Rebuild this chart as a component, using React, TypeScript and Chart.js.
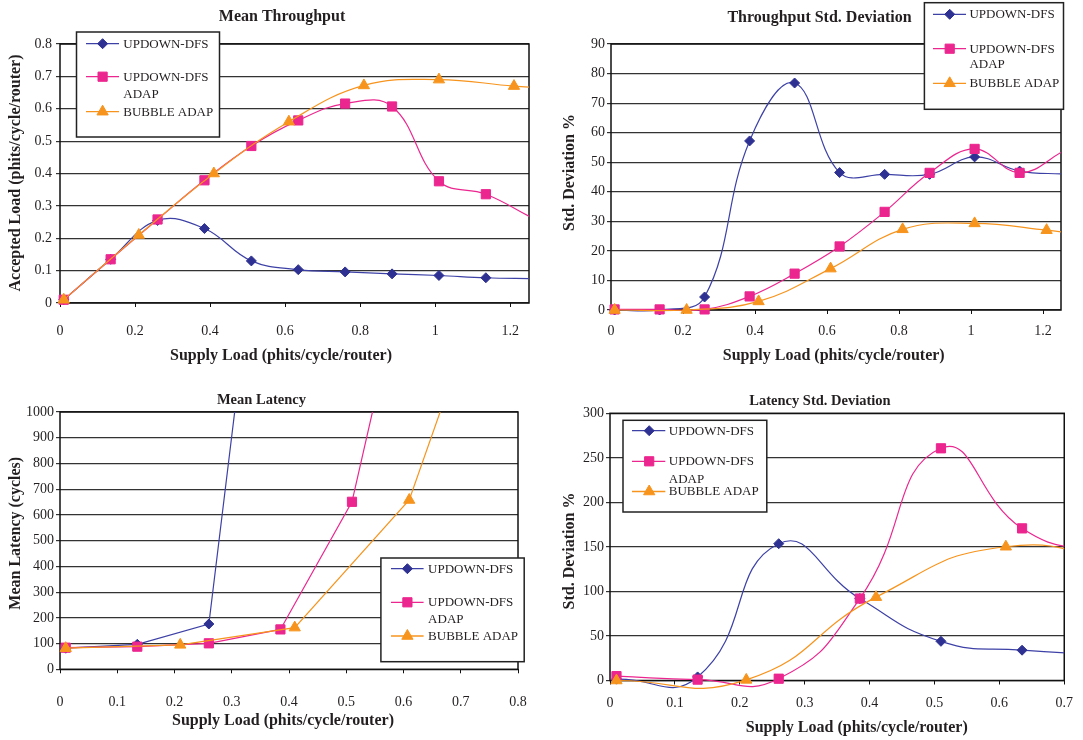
import React, { useEffect, useRef } from 'react';
import { Chart, registerables } from 'chart.js';

Chart.register(...registerables);

const SERIF = '"Liberation Serif", "Times New Roman", serif';
const W = 1083;
const H = 740;

// ---- series meta ----
const seriesNames = ['UPDOWN-DFS', 'UPDOWN-DFS ADAP', 'BUBBLE ADAP'];
const legendLines = [['UPDOWN-DFS'], ['UPDOWN-DFS', 'ADAP'], ['BUBBLE ADAP']];
const markerColors = ['#2e3192', '#ec268f', '#f7941d'];
const lineColors = ['#3d41a6', '#ec268f', '#f7941d'];

// ---- supply loads (phits/cycle/router) ----
const loadsUpdown = [0.01, 0.135, 0.26, 0.385, 0.51, 0.635, 0.76, 0.885, 1.01, 1.135, 1.26];
const loadsBubble = [0.01, 0.21, 0.41, 0.61, 0.81, 1.01, 1.21, 1.41];

// ---- Mean Throughput (accepted load) ----
const thrUpdown = [0.01, 0.135, 0.255, 0.23, 0.13, 0.103, 0.096, 0.09, 0.085, 0.078, 0.075];
const thrUpdownAdap = [0.01, 0.135, 0.258, 0.379, 0.485, 0.564, 0.616, 0.607, 0.376, 0.336, 0.262];
const thrBubble = [0.01, 0.21, 0.4, 0.56, 0.672, 0.69, 0.67, 0.655];

// ---- Throughput Std. Deviation (%) ----
const thrSdUpdown = [0, 0, 4.4, 57.2, 76.8, 46.5, 45.9, 45.9, 51.8, 47, 46];
const thrSdUpdownAdap = [0.2, 0.2, 0.2, 4.6, 12.3, 21.5, 33.2, 46.4, 54.5, 46.4, 54];
const thrSdBubble = [0, 0, 2.9, 14, 27.3, 29.3, 27, 24];

// ---- Mean Latency (cycles) ----
const latUpdown = [82, 97, 176, 2460];
const latUpdownAdap = [84, 88, 101, 155, 651, 1870];
const latBubble = [82, 95, 162, 658, 1925];

// ---- Latency Std. Deviation (%) ----
const latSdUpdown = [1.5, 4, 153.6, 92, 44, 34, 29];
const latSdUpdownAdap = [4.9, 1, 2, 92, 260.7, 170.8, 140];
const latSdBubble = [0, 0.7, 93.6, 150.2, 128];

const xAxisTitle = 'Supply Load (phits/cycle/router)';

type Legend = {
  box: [number, number, number, number];
  line: [number, number];
  marker: number;
  text: number;
  rows: [number, number, number];
  gap: number;
};

type Panel = {
  title: string;
  titleSize: number;
  titlePos: [number, number];
  yTitle: string;
  yTitlePos: [number, number];
  xTitlePos: [number, number];
  area: [number, number, number, number];
  xMax: number;
  xStep: number;
  yMax: number;
  yStep: number;
  xLabelPad: number;
  yLabelPad: number;
  tension: number;
  clipTop: number;
  series: [number[], number[]][];
  legend: Legend;
};

const panels: Panel[] = [
  {
    title: 'Mean Throughput',
    titleSize: 16,
    titlePos: [282, 17],
    yTitle: 'Accepted Load (phits/cycle/router)',
    yTitlePos: [15.5, 173],
    xTitlePos: [281, 356],
    area: [60, 44, 529, 303],
    xMax: 1.25,
    xStep: 0.2,
    yMax: 0.8,
    yStep: 0.1,
    xLabelPad: 16,
    yLabelPad: 4,
    tension: 0.4,
    clipTop: 10,
    series: [
      [loadsUpdown, thrUpdown],
      [loadsUpdown, thrUpdownAdap],
      [loadsBubble, thrBubble],
    ],
    legend: { box: [76.5, 32, 219.5, 137], line: [86, 119], marker: 102.6, text: 123.3, rows: [43.7, 76.7, 111.7], gap: 17.6 },
  },
  {
    title: 'Throughput Std. Deviation',
    titleSize: 16,
    titlePos: [819.5, 17.7],
    yTitle: 'Std. Deviation %',
    yTitlePos: [569.4, 172.5],
    xTitlePos: [833.7, 356],
    area: [611, 44, 1061, 310],
    xMax: 1.25,
    xStep: 0.2,
    yMax: 90,
    yStep: 10,
    xLabelPad: 9,
    yLabelPad: 2,
    tension: 0.4,
    clipTop: 10,
    series: [
      [loadsUpdown, thrSdUpdown],
      [loadsUpdown, thrSdUpdownAdap],
      [loadsBubble, thrSdBubble],
    ],
    legend: { box: [924.4, 2.7, 1063.5, 109.3], line: [933, 966], marker: 949.7, text: 969.4, rows: [14.3, 48.7, 83.3], gap: 15.5 },
  },
  {
    title: 'Mean Latency',
    titleSize: 14.5,
    titlePos: [261.4, 400],
    yTitle: 'Mean Latency (cycles)',
    yTitlePos: [15.5, 533.3],
    xTitlePos: [283, 721],
    area: [60, 412, 518, 669.3],
    xMax: 0.8,
    xStep: 0.1,
    yMax: 1000,
    yStep: 100,
    xLabelPad: 21,
    yLabelPad: 2,
    tension: 0,
    clipTop: 0,
    series: [
      [loadsUpdown, latUpdown],
      [loadsUpdown, latUpdownAdap],
      [loadsBubble, latBubble],
    ],
    legend: { box: [380.9, 558, 524.2, 661.7], line: [391, 423.6], marker: 407.4, text: 428.1, rows: [568.7, 602.3, 636], gap: 17 },
  },
  {
    title: 'Latency Std. Deviation',
    titleSize: 14.5,
    titlePos: [820, 401.7],
    yTitle: 'Std. Deviation %',
    yTitlePos: [569.8, 551],
    xTitlePos: [856.8, 727.7],
    area: [610, 413.3, 1069, 680.5],
    xMax: 0.7,
    xStep: 0.1,
    yMax: 300,
    yStep: 50,
    xLabelPad: 10,
    yLabelPad: 2,
    tension: 0.5,
    clipTop: 10,
    series: [
      [loadsUpdown, latSdUpdown],
      [loadsUpdown, latSdUpdownAdap],
      [loadsBubble, latSdBubble],
    ],
    legend: { box: [623, 420.3, 766.8, 512], line: [632, 665.3], marker: 649.2, text: 668.8, rows: [430.7, 461.3, 491.5], gap: 18 },
  },
];

const pointStyles = ['rectRot', 'rect', 'triangle'];
const pointRadii = [5, 6.5, 6.5];

function drawMarker(ctx: CanvasRenderingContext2D, i: number, x: number, y: number) {
  const r = pointRadii[i];
  ctx.beginPath();
  if (i === 0) {
    ctx.moveTo(x, y - r);
    ctx.lineTo(x + r, y);
    ctx.lineTo(x, y + r);
    ctx.lineTo(x - r, y);
  } else if (i === 1) {
    const s = r * Math.SQRT1_2;
    ctx.rect(x - s, y - s, 2 * s, 2 * s);
  } else {
    ctx.moveTo(x, y - r);
    ctx.lineTo(x + r * 0.866, y + r / 2);
    ctx.lineTo(x - r * 0.866, y + r / 2);
  }
  ctx.closePath();
  ctx.fillStyle = markerColors[i];
  ctx.strokeStyle = markerColors[i];
  ctx.lineWidth = 1;
  ctx.fill();
  ctx.stroke();
}

function makeDecor(p: Panel) {
  return {
    id: 'decor',
    beforeDatasetsDraw(chart: any) {
      const { ctx, chartArea: a } = chart;
      ctx.save();
      ctx.strokeStyle = '#111';
      ctx.lineWidth = 1.5;
      ctx.strokeRect(a.left, a.top, a.right - a.left, a.bottom - a.top);
      ctx.restore();
    },
    afterDraw(chart: any) {
      const ctx: CanvasRenderingContext2D = chart.ctx;
      ctx.save();
      ctx.fillStyle = '#231f20';
      ctx.textAlign = 'center';
      ctx.textBaseline = 'middle';
      // title
      ctx.font = `bold ${p.titleSize}px ${SERIF}`;
      ctx.fillText(p.title, p.titlePos[0], p.titlePos[1]);
      // x axis title
      ctx.font = `bold 16px ${SERIF}`;
      ctx.fillText(xAxisTitle, p.xTitlePos[0], p.xTitlePos[1]);
      // y axis title
      ctx.save();
      ctx.translate(p.yTitlePos[0], p.yTitlePos[1]);
      ctx.rotate(-Math.PI / 2);
      ctx.fillText(p.yTitle, 0, 0);
      ctx.restore();

      // legend
      const L = p.legend;
      const [x1, y1, x2, y2] = L.box;
      ctx.fillStyle = '#ffffff';
      ctx.fillRect(x1, y1, x2 - x1, y2 - y1);
      ctx.strokeStyle = '#222';
      ctx.lineWidth = 1.5;
      ctx.strokeRect(x1, y1, x2 - x1, y2 - y1);
      ctx.font = `13px ${SERIF}`;
      ctx.textAlign = 'left';
      ctx.textBaseline = 'middle';
      for (let i = 0; i < 3; i++) {
        const y = L.rows[i];
        ctx.strokeStyle = lineColors[i];
        ctx.lineWidth = 1.3;
        ctx.beginPath();
        ctx.moveTo(L.line[0], y);
        ctx.lineTo(L.line[1], y);
        ctx.stroke();
        drawMarker(ctx, i, L.marker, y);
        ctx.fillStyle = '#231f20';
        legendLines[i].forEach((t, k) => ctx.fillText(t, L.text, y + k * L.gap + 0.5));
      }
      ctx.restore();
    },
  };
}

const fmt = (v: any) => String(+Number(v).toFixed(3));

function buildConfig(p: Panel): any {
  const datasets = p.series.map(([xs, ys], i) => ({
    label: seriesNames[i],
    data: ys.map((y, j) => ({ x: xs[j], y })),
    borderColor: lineColors[i],
    backgroundColor: markerColors[i],
    borderWidth: 1.2,
    pointStyle: pointStyles[i],
    pointRadius: (c: any) => {
      const raw = c.raw;
      if (raw && (raw.x > p.xMax + 1e-9 || raw.y > p.yMax + 1e-9)) return 0;
      return pointRadii[i];
    },
    pointBackgroundColor: markerColors[i],
    pointBorderColor: markerColors[i],
    pointBorderWidth: 1,
    pointHoverRadius: pointRadii[i],
    tension: p.tension,
    cubicInterpolationMode: 'default',
    capBezierPoints: false,
    fill: false,
    clip: { left: 10, right: 0, top: p.clipTop, bottom: 12 },
    order: 3 - i,
  }));
  const tickFont = { family: SERIF, size: 14 };
  return {
    type: 'line',
    data: { datasets },
    options: {
      responsive: false,
      animation: false,
      devicePixelRatio: 1,
      events: [],
      elements: { line: { capBezierPoints: false } },
      layout: { padding: { left: 0, top: p.area[1], right: W - p.area[2], bottom: 0 } },
      plugins: {
        legend: { display: false },
        title: { display: false },
        tooltip: { enabled: false },
      },
      scales: {
        x: {
          type: 'linear',
          min: 0,
          max: p.xMax,
          ticks: {
            stepSize: p.xStep,
            includeBounds: false,
            autoSkip: false,
            maxRotation: 0,
            font: tickFont,
            color: '#231f20',
            padding: p.xLabelPad,
            callback: fmt,
          },
          grid: { drawOnChartArea: false, drawTicks: true, tickLength: 4, color: '#111', lineWidth: 1 },
          border: { display: false },
          afterFit: (s: any) => {
            s.height = H - p.area[3];
          },
        },
        y: {
          type: 'linear',
          min: 0,
          max: p.yMax,
          ticks: {
            stepSize: p.yStep,
            includeBounds: false,
            autoSkip: false,
            font: tickFont,
            color: '#231f20',
            padding: p.yLabelPad,
            callback: fmt,
          },
          grid: { color: '#333', lineWidth: 1.2, drawTicks: true, tickLength: 4 },
          border: { display: false },
          afterFit: (s: any) => {
            s.width = p.area[0];
          },
        },
      },
    },
    plugins: [makeDecor(p)],
  };
}

function PanelChart({ panel }: { panel: Panel }) {
  const ref = useRef<HTMLCanvasElement>(null);
  useEffect(() => {
    if (!ref.current) return;
    const chart = new Chart(ref.current, buildConfig(panel));
    return () => chart.destroy();
  }, [panel]);
  return (
    <canvas
      ref={ref}
      width={W}
      height={H}
      style={{ position: 'absolute', left: 0, top: 0, width: W, height: H }}
    />
  );
}

export default function App() {
  return (
    <div style={{ position: 'absolute', left: 0, top: 0, width: W, height: H, background: '#fff', overflow: 'hidden' }}>
      {panels.map((p, i) => (
        <PanelChart key={i} panel={p} />
      ))}
    </div>
  );
}
